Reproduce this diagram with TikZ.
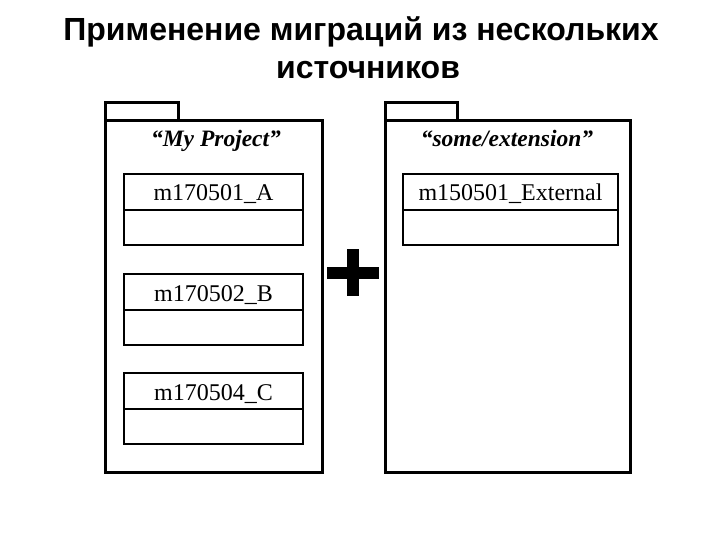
\documentclass[tikz,border=0pt]{standalone}
\usepackage{fontspec}
\setmainfont{Liberation Serif}
\newfontfamily\titlefont{Liberation Sans}
\begin{document}
\begin{tikzpicture}[x=1pt,y=-1pt,
  pkg/.style={draw=black,line width=3pt,fill=white},
  cls/.style={draw=black,line width=2.5pt,fill=white},
  clsname/.style={font=\fontsize{24}{28}\selectfont,inner sep=0pt,anchor=base},
  pkgname/.style={font=\fontsize{23.5}{27}\selectfont\bfseries\itshape,inner sep=0pt,anchor=base},
  titletext/.style={font=\titlefont\bfseries\fontsize{32}{38.5}\selectfont,align=center,inner sep=0pt}]
\useasboundingbox (0,0) rectangle (720,540);
\fill[white] (0,0) rectangle (720,540);
% title
\node[titletext] (title) at (361,48) {Применение миграций из нескольких\\\hspace*{14pt}источников};
% left package
\draw[pkg] (105,103) rectangle (178,121);
\draw[pkg] (105,121) rectangle (322,472);
\node[pkgname] (p1) at (216,147) {“My Project”};
% right package
\draw[pkg] (385,103) rectangle (457,121);
\draw[pkg] (385,121) rectangle (630,472);
\node[pkgname] (p2) at (507,147) {“some/extension”};
% classes left
\foreach \y/\t/\n in {174/m170501\_A/a, 274/m170502\_B/b, 373/m170504\_C/c}{
  \draw[cls] (124,\y) rectangle (303,\y+36);
  \draw[cls] (124,\y+36) rectangle (303,\y+71);
  \node[clsname] (\n) at (213.5,\y+27) {\t};
}
% class right
\draw[cls] (403,174) rectangle (618,210);
\draw[cls] (403,210) rectangle (618,245);
\node[clsname] (e) at (510.5,201) {m150501\_External};
% plus
\fill[black] (327,266.5) rectangle (379,278.5);
\fill[black] (347,249) rectangle (359,296);
\end{tikzpicture}
\end{document}
